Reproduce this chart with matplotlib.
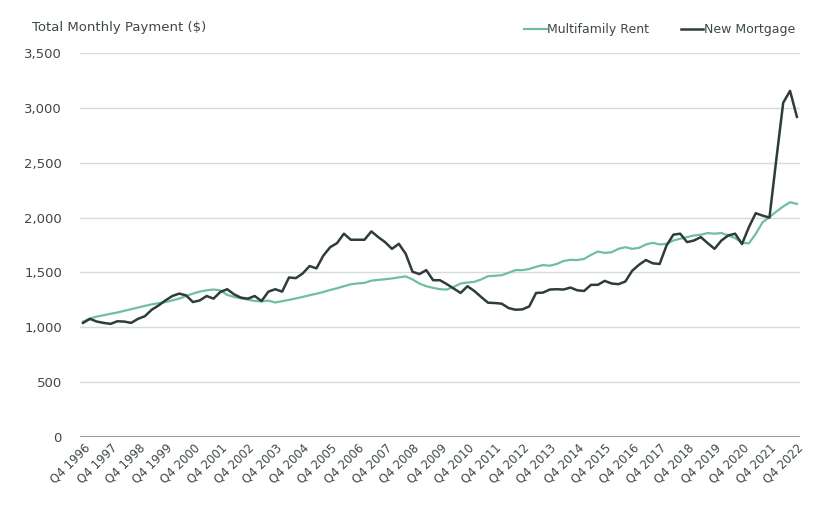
import matplotlib
matplotlib.use("Agg")
import matplotlib.pyplot as plt
import numpy as np

# Quarterly data, Q4 1996 .. Q4 2022
years = list(range(1996, 2023))
tick_labels = [f"Q4 {y}" for y in years]

multifamily_rent = [
    1052, 1080, 1098, 1110, 1123, 1135, 1150, 1165, 1180, 1195,
    1209, 1220, 1230, 1245, 1261, 1285, 1307, 1325, 1337, 1344,
    1337, 1295, 1276, 1264, 1252, 1240, 1236, 1243, 1226, 1238,
    1250, 1263, 1277, 1292, 1306, 1322, 1340, 1356, 1374, 1392,
    1400, 1405, 1425, 1432, 1438, 1445, 1455, 1464, 1436, 1399,
    1374, 1359, 1347, 1344, 1368, 1399, 1408, 1414, 1436, 1466,
    1469, 1475, 1497, 1521, 1521, 1531, 1552, 1567, 1561, 1577,
    1604, 1615, 1613, 1623, 1660, 1690, 1678, 1684, 1715, 1730,
    1715, 1724, 1755, 1770, 1755, 1761, 1791, 1807, 1822, 1837,
    1844, 1859, 1853, 1859, 1837, 1813, 1770, 1765, 1851, 1957,
    2003, 2055, 2101, 2140, 2125,
]

new_mortgage = [
    1040, 1077, 1052, 1040, 1031, 1055, 1052, 1040, 1077, 1101,
    1160, 1199, 1245, 1285, 1307, 1291, 1230, 1245, 1285, 1261,
    1322, 1347, 1300, 1270, 1261, 1285, 1239, 1325, 1347, 1325,
    1454, 1448, 1491, 1558, 1537, 1653, 1730, 1767, 1853, 1798,
    1798, 1798, 1874, 1822, 1776, 1715, 1761, 1670, 1506, 1485,
    1521, 1429, 1429, 1393, 1353, 1313, 1374, 1331, 1276, 1224,
    1221, 1215, 1175, 1160, 1163, 1190, 1313, 1316, 1344, 1347,
    1344, 1362, 1337, 1331, 1387, 1387, 1423, 1399, 1393, 1417,
    1515, 1570, 1613, 1583, 1577, 1745, 1844, 1853, 1776, 1791,
    1822, 1767, 1715, 1791, 1837, 1853, 1759, 1912, 2040, 2018,
    2000, 2530, 3046, 3155, 2918,
]

assert len(multifamily_rent) == len(new_mortgage) == 105

text_color = "#3e4848"
rent_color = "#6fbf9f"
mort_color = "#2f3c3d"

fig = plt.figure(figsize=(8.28, 5.07), dpi=100)
ax = fig.add_axes([80 / 828, 1 - 437 / 507, 720 / 828, 384 / 507])

x = np.arange(len(new_mortgage))
ax.plot(x, multifamily_rent, color=rent_color, lw=1.6, label="Multifamily Rent", zorder=3)
ax.plot(x, new_mortgage, color=mort_color, lw=1.8, label="New Mortgage", zorder=4)

ax.set_xlim(-0.45, len(x) - 1 + 0.45)
ax.set_ylim(0, 3500)
yt = np.arange(0, 3501, 500)
ax.set_yticks(yt)
ax.set_yticklabels([f"{v:,}" for v in yt], color=text_color, fontsize=9.5)
ax.yaxis.grid(True, color="#d6dcdc", lw=1.0)
ax.set_axisbelow(True)
ax.axhline(0, color="#7d8888", lw=1.2, zorder=2)

ax.set_xticks(x[::4])
ax.set_xticklabels(tick_labels, rotation=45, ha="right", va="top",
                   rotation_mode="anchor", color=text_color, fontsize=8.5)

for s in ax.spines.values():
    s.set_visible(False)
ax.tick_params(axis="both", length=0)
ax.tick_params(axis="y", pad=13)
ax.tick_params(axis="x", pad=3)

fig.text(32 / 828, 1 - 27 / 507, "Total Monthly Payment ($)", color=text_color,
         fontsize=9.5, ha="left", va="center")

leg = ax.legend(loc="lower right", bbox_to_anchor=(795 / 828, 1 - 36 / 507),
                bbox_transform=fig.transFigure, ncol=2, frameon=False,
                fontsize=9, handlelength=1.8, handletextpad=0.05,
                columnspacing=2.5, borderaxespad=0, borderpad=0)
for t in leg.get_texts():
    t.set_color(text_color)

fig.savefig("out.png", dpi=100, facecolor="white")
